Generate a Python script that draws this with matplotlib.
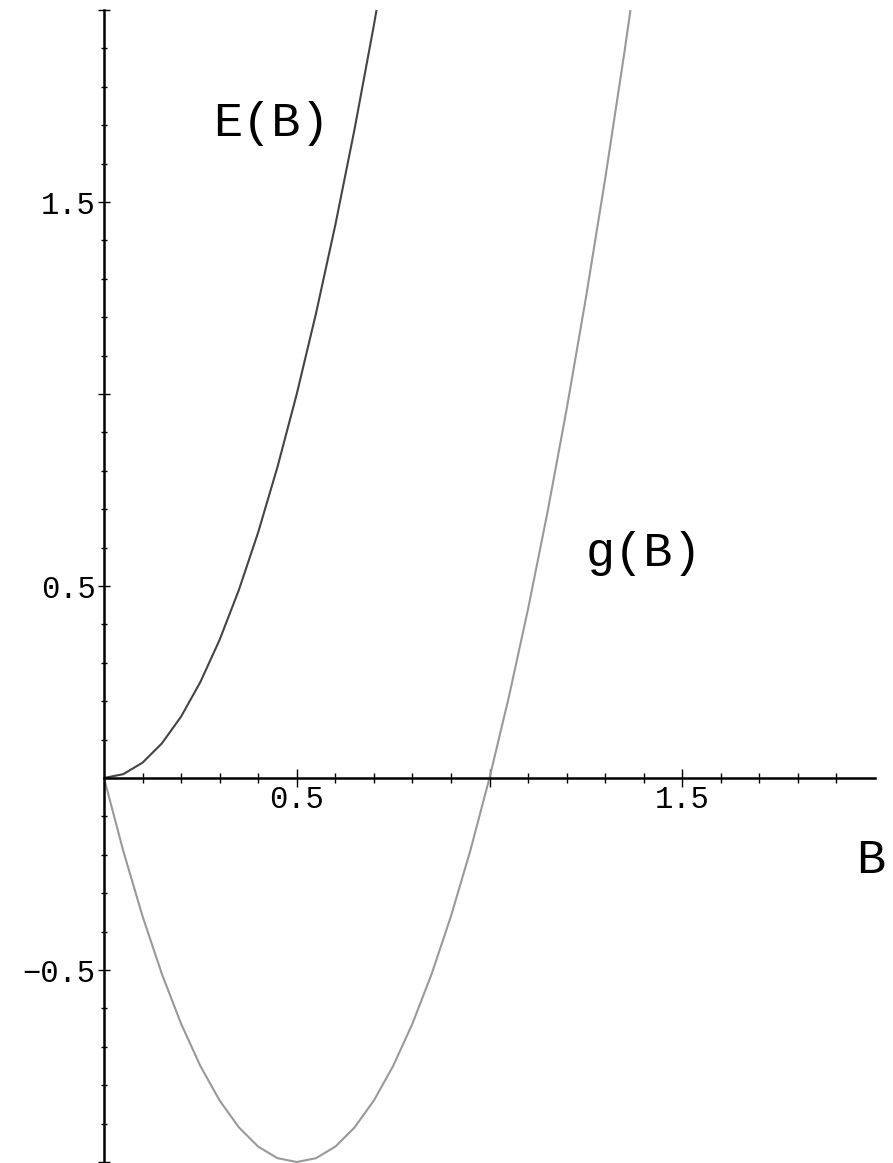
import matplotlib
matplotlib.use("Agg")
import matplotlib.pyplot as plt
from matplotlib.ticker import FixedLocator, NullFormatter

# Data
B_E = [0.0, 0.05, 0.10, 0.15, 0.20, 0.25, 0.30, 0.35, 0.40, 0.45, 0.50,
       0.55, 0.60, 0.65, 0.70, 0.75]
E_vals = [0.0, 0.01, 0.04, 0.09, 0.16, 0.25, 0.36, 0.49, 0.64, 0.81, 1.00,
          1.21, 1.44, 1.69, 1.96, 2.25]

B_g = [0.0, 0.05, 0.10, 0.15, 0.20, 0.25, 0.30, 0.35, 0.40, 0.45, 0.50,
       0.55, 0.60, 0.65, 0.70, 0.75, 0.80, 0.85, 0.90, 0.95, 1.00,
       1.05, 1.10, 1.15, 1.20, 1.25, 1.30, 1.35, 1.40]
g_vals = [0.0, -0.19, -0.36, -0.51, -0.64, -0.75, -0.84, -0.91, -0.96, -0.99, -1.00,
          -0.99, -0.96, -0.91, -0.84, -0.75, -0.64, -0.51, -0.36, -0.19, 0.00,
          0.21, 0.44, 0.69, 0.96, 1.25, 1.56, 1.89, 2.24]

x_major = [0.5, 1.0, 1.5]
x_major_labels = ["0.5", "", "1.5"]
y_major = [-1.0, -0.5, 0.5, 1.0, 1.5, 2.0]
y_major_labels = ["", "\u22120.5", "0.5", "", "1.5", ""]
x_minor = [0.1, 0.2, 0.3, 0.4, 0.6, 0.7, 0.8, 0.9, 1.1, 1.2, 1.3, 1.4, 1.6, 1.7, 1.8, 1.9]
y_minor = [-0.9, -0.8, -0.7, -0.6, -0.4, -0.3, -0.2, -0.1, 0.1, 0.2, 0.3, 0.4,
           0.6, 0.7, 0.8, 0.9, 1.1, 1.2, 1.3, 1.4, 1.6, 1.7, 1.8, 1.9]

curve_labels = ["E(B)", "g(B)"]
axis_label = "B"

FONT = ["Liberation Mono", "DejaVu Sans Mono", "DejaVu Sans"]

W, H = 893, 1163
fig = plt.figure(figsize=(W / 100, H / 100), dpi=100)

# axes placement (pixels): x 0..2 -> 104..875 ; y 2 -> 10 px from top, -1 -> 1162
x0p, x1p = 104, 875
ytop_p, ybot_p = 10, 1162
ppu_y = (ybot_p - ytop_p) / 3.0
ymin, ymax = -1.012, 2.0
bot_p = ytop_p + (ymax - ymin) * ppu_y
ax = fig.add_axes([x0p / W, (H - bot_p) / H, (x1p - x0p) / W, (bot_p - ytop_p) / H])
ax.set_xlim(0, 2.0)
ax.set_ylim(ymin, ymax)

ax.plot(B_g, g_vals, color="#999999", lw=1.5, solid_joinstyle="round")
ax.plot(B_E, E_vals, color="#444444", lw=1.5, solid_joinstyle="round")

for s in ["top", "right"]:
    ax.spines[s].set_visible(False)
ax.spines["left"].set_position(("data", 0))
ax.spines["bottom"].set_position(("data", 0))
ax.spines["left"].set_bounds(-1.0, 2.0)
ax.spines["bottom"].set_bounds(0.0, 2.0)
for s in ["left", "bottom"]:
    ax.spines[s].set_linewidth(1.8)
    ax.spines[s].set_color("black")

ax.set_xticks(x_major, x_major_labels)
ax.set_yticks(y_major, y_major_labels)
ax.xaxis.set_minor_locator(FixedLocator(x_minor))
ax.yaxis.set_minor_locator(FixedLocator(y_minor))
ax.xaxis.set_minor_formatter(NullFormatter())
ax.yaxis.set_minor_formatter(NullFormatter())

ax.tick_params(axis="x", which="major", direction="inout", length=13.5, width=1.0, pad=-2)
ax.tick_params(axis="x", which="minor", direction="inout", length=6.5, width=1.0)
ax.tick_params(axis="y", which="major", direction="inout", length=8, width=1.0, pad=2)
ax.tick_params(axis="y", which="minor", direction="inout", length=5, width=1.0)

for lab in ax.get_xticklabels() + ax.get_yticklabels():
    lab.set_family(FONT)
    lab.set_fontsize(22)

ax.text(0.433, 1.672, curve_labels[0], family=FONT, fontsize=35,
        ha="center", va="baseline")
ax.text(1.40, 0.552, curve_labels[1], family=FONT, fontsize=35,
        ha="center", va="baseline")
ax.text(1.99, -0.247, axis_label, family=FONT, fontsize=35, ha="center", va="baseline")

fig.savefig("out.png", dpi=100)
